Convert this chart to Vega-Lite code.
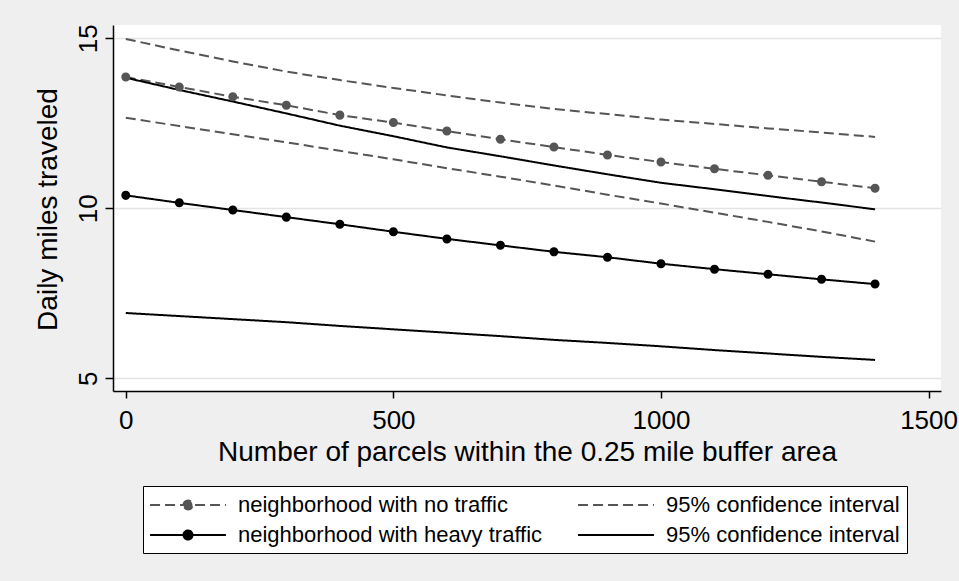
{
  "$schema": "https://vega.github.io/schema/vega-lite/v6.json",
  "width": 828,
  "height": 366,
  "autosize": {"type": "none"},
  "padding": {"left": 113, "top": 25, "right": 18, "bottom": 190},
  "background": "#efefef",
  "config": {
    "font": "Liberation Sans",
    "view": {"fill": "white", "stroke": null},
    "axis": {
      "domainColor": "#000000",
      "domainWidth": 1.5,
      "tickColor": "#000000",
      "tickWidth": 1.5,
      "labelColor": "#000000",
      "titleColor": "#000000",
      "titleFontWeight": "normal",
      "labelOverlap": false,
      "labelFlush": false,
      "labelBound": false
    },
    "legend": {
      "orient": "none",
      "legendX": 30,
      "legendY": 461,
      "direction": "horizontal",
      "columns": 2,
      "columnPadding": 31,
      "rowPadding": 7,
      "padding": 7,
      "strokeColor": "#000000",
      "fillColor": "#ffffff",
      "symbolSize": 484,
      "symbolOffset": 26,
      "symbolStrokeWidth": 2,
      "labelFontSize": 22,
      "labelColor": "#000000",
      "labelOffset": 38,
      "labelLimit": 600
    }
  },
  "data": {
    "values": [
      {"parcels": 0, "miles": 13.86, "group": "none", "curve": "estimate"},
      {"parcels": 100, "miles": 13.57, "group": "none", "curve": "estimate"},
      {"parcels": 200, "miles": 13.28, "group": "none", "curve": "estimate"},
      {"parcels": 300, "miles": 13.03, "group": "none", "curve": "estimate"},
      {"parcels": 400, "miles": 12.74, "group": "none", "curve": "estimate"},
      {"parcels": 500, "miles": 12.52, "group": "none", "curve": "estimate"},
      {"parcels": 600, "miles": 12.27, "group": "none", "curve": "estimate"},
      {"parcels": 700, "miles": 12.03, "group": "none", "curve": "estimate"},
      {"parcels": 800, "miles": 11.80, "group": "none", "curve": "estimate"},
      {"parcels": 900, "miles": 11.57, "group": "none", "curve": "estimate"},
      {"parcels": 1000, "miles": 11.36, "group": "none", "curve": "estimate"},
      {"parcels": 1100, "miles": 11.16, "group": "none", "curve": "estimate"},
      {"parcels": 1200, "miles": 10.97, "group": "none", "curve": "estimate"},
      {"parcels": 1300, "miles": 10.78, "group": "none", "curve": "estimate"},
      {"parcels": 1400, "miles": 10.59, "group": "none", "curve": "estimate"},

      {"parcels": 0, "miles": 14.98, "group": "none_ci", "curve": "upper"},
      {"parcels": 100, "miles": 14.64, "group": "none_ci", "curve": "upper"},
      {"parcels": 200, "miles": 14.32, "group": "none_ci", "curve": "upper"},
      {"parcels": 300, "miles": 14.02, "group": "none_ci", "curve": "upper"},
      {"parcels": 400, "miles": 13.77, "group": "none_ci", "curve": "upper"},
      {"parcels": 500, "miles": 13.54, "group": "none_ci", "curve": "upper"},
      {"parcels": 600, "miles": 13.32, "group": "none_ci", "curve": "upper"},
      {"parcels": 700, "miles": 13.11, "group": "none_ci", "curve": "upper"},
      {"parcels": 800, "miles": 12.92, "group": "none_ci", "curve": "upper"},
      {"parcels": 900, "miles": 12.77, "group": "none_ci", "curve": "upper"},
      {"parcels": 1000, "miles": 12.61, "group": "none_ci", "curve": "upper"},
      {"parcels": 1100, "miles": 12.48, "group": "none_ci", "curve": "upper"},
      {"parcels": 1200, "miles": 12.35, "group": "none_ci", "curve": "upper"},
      {"parcels": 1300, "miles": 12.23, "group": "none_ci", "curve": "upper"},
      {"parcels": 1400, "miles": 12.10, "group": "none_ci", "curve": "upper"},

      {"parcels": 0, "miles": 12.66, "group": "none_ci", "curve": "lower"},
      {"parcels": 100, "miles": 12.42, "group": "none_ci", "curve": "lower"},
      {"parcels": 200, "miles": 12.18, "group": "none_ci", "curve": "lower"},
      {"parcels": 300, "miles": 11.94, "group": "none_ci", "curve": "lower"},
      {"parcels": 400, "miles": 11.69, "group": "none_ci", "curve": "lower"},
      {"parcels": 500, "miles": 11.44, "group": "none_ci", "curve": "lower"},
      {"parcels": 600, "miles": 11.18, "group": "none_ci", "curve": "lower"},
      {"parcels": 700, "miles": 10.93, "group": "none_ci", "curve": "lower"},
      {"parcels": 800, "miles": 10.67, "group": "none_ci", "curve": "lower"},
      {"parcels": 900, "miles": 10.40, "group": "none_ci", "curve": "lower"},
      {"parcels": 1000, "miles": 10.14, "group": "none_ci", "curve": "lower"},
      {"parcels": 1100, "miles": 9.87, "group": "none_ci", "curve": "lower"},
      {"parcels": 1200, "miles": 9.60, "group": "none_ci", "curve": "lower"},
      {"parcels": 1300, "miles": 9.32, "group": "none_ci", "curve": "lower"},
      {"parcels": 1400, "miles": 9.02, "group": "none_ci", "curve": "lower"},

      {"parcels": 0, "miles": 10.38, "group": "heavy", "curve": "estimate"},
      {"parcels": 100, "miles": 10.16, "group": "heavy", "curve": "estimate"},
      {"parcels": 200, "miles": 9.95, "group": "heavy", "curve": "estimate"},
      {"parcels": 300, "miles": 9.74, "group": "heavy", "curve": "estimate"},
      {"parcels": 400, "miles": 9.53, "group": "heavy", "curve": "estimate"},
      {"parcels": 500, "miles": 9.31, "group": "heavy", "curve": "estimate"},
      {"parcels": 600, "miles": 9.10, "group": "heavy", "curve": "estimate"},
      {"parcels": 700, "miles": 8.91, "group": "heavy", "curve": "estimate"},
      {"parcels": 800, "miles": 8.72, "group": "heavy", "curve": "estimate"},
      {"parcels": 900, "miles": 8.56, "group": "heavy", "curve": "estimate"},
      {"parcels": 1000, "miles": 8.37, "group": "heavy", "curve": "estimate"},
      {"parcels": 1100, "miles": 8.21, "group": "heavy", "curve": "estimate"},
      {"parcels": 1200, "miles": 8.06, "group": "heavy", "curve": "estimate"},
      {"parcels": 1300, "miles": 7.91, "group": "heavy", "curve": "estimate"},
      {"parcels": 1400, "miles": 7.77, "group": "heavy", "curve": "estimate"},

      {"parcels": 0, "miles": 13.84, "group": "heavy_ci", "curve": "upper"},
      {"parcels": 100, "miles": 13.48, "group": "heavy_ci", "curve": "upper"},
      {"parcels": 200, "miles": 13.14, "group": "heavy_ci", "curve": "upper"},
      {"parcels": 300, "miles": 12.79, "group": "heavy_ci", "curve": "upper"},
      {"parcels": 400, "miles": 12.43, "group": "heavy_ci", "curve": "upper"},
      {"parcels": 500, "miles": 12.12, "group": "heavy_ci", "curve": "upper"},
      {"parcels": 600, "miles": 11.79, "group": "heavy_ci", "curve": "upper"},
      {"parcels": 700, "miles": 11.53, "group": "heavy_ci", "curve": "upper"},
      {"parcels": 800, "miles": 11.26, "group": "heavy_ci", "curve": "upper"},
      {"parcels": 900, "miles": 11.00, "group": "heavy_ci", "curve": "upper"},
      {"parcels": 1000, "miles": 10.75, "group": "heavy_ci", "curve": "upper"},
      {"parcels": 1100, "miles": 10.56, "group": "heavy_ci", "curve": "upper"},
      {"parcels": 1200, "miles": 10.36, "group": "heavy_ci", "curve": "upper"},
      {"parcels": 1300, "miles": 10.17, "group": "heavy_ci", "curve": "upper"},
      {"parcels": 1400, "miles": 9.97, "group": "heavy_ci", "curve": "upper"},

      {"parcels": 0, "miles": 6.92, "group": "heavy_ci", "curve": "lower"},
      {"parcels": 100, "miles": 6.83, "group": "heavy_ci", "curve": "lower"},
      {"parcels": 200, "miles": 6.74, "group": "heavy_ci", "curve": "lower"},
      {"parcels": 300, "miles": 6.65, "group": "heavy_ci", "curve": "lower"},
      {"parcels": 400, "miles": 6.54, "group": "heavy_ci", "curve": "lower"},
      {"parcels": 500, "miles": 6.44, "group": "heavy_ci", "curve": "lower"},
      {"parcels": 600, "miles": 6.34, "group": "heavy_ci", "curve": "lower"},
      {"parcels": 700, "miles": 6.24, "group": "heavy_ci", "curve": "lower"},
      {"parcels": 800, "miles": 6.13, "group": "heavy_ci", "curve": "lower"},
      {"parcels": 900, "miles": 6.04, "group": "heavy_ci", "curve": "lower"},
      {"parcels": 1000, "miles": 5.94, "group": "heavy_ci", "curve": "lower"},
      {"parcels": 1100, "miles": 5.83, "group": "heavy_ci", "curve": "lower"},
      {"parcels": 1200, "miles": 5.73, "group": "heavy_ci", "curve": "lower"},
      {"parcels": 1300, "miles": 5.63, "group": "heavy_ci", "curve": "lower"},
      {"parcels": 1400, "miles": 5.54, "group": "heavy_ci", "curve": "lower"}
    ]
  },
  "encoding": {
    "x": {
      "field": "parcels",
      "type": "quantitative",
      "scale": {"domain": [-23.9, 1523.2], "nice": false, "zero": false},
      "axis": {
        "values": [0, 500, 1000, 1500],
        "format": "d",
        "grid": false,
        "tickSize": 7,
        "labelFontSize": 26,
        "labelBaseline": "alphabetic",
        "labelPadding": 30,
        "title": "Number of parcels within the 0.25 mile buffer area",
        "titleFontSize": 28,
        "titleBaseline": "alphabetic",
        "titleAlign": "center",
        "titleX": 414,
        "titleY": 69
      }
    },
    "y": {
      "field": "miles",
      "type": "quantitative",
      "scale": {"domain": [4.626, 15.391], "nice": false, "zero": false},
      "axis": {
        "values": [5, 10, 15],
        "grid": true,
        "gridColor": "#e4e4e4",
        "gridWidth": 1.5,
        "tickSize": 8,
        "labelFontSize": 26,
        "labelAngle": 270,
        "labelAlign": "center",
        "labelBaseline": "alphabetic",
        "labelPadding": 9,
        "title": "Daily miles traveled",
        "titleFontSize": 28,
        "titleAngle": 270,
        "titleAlign": "center",
        "titleBaseline": "alphabetic",
        "titleX": -57,
        "titleY": 184
      }
    },
    "color": {
      "field": "group",
      "type": "nominal",
      "scale": {
        "domain": ["none", "none_ci", "heavy", "heavy_ci"],
        "range": ["#555555", "#555555", "#000000", "#000000"]
      },
      "legend": {
        "title": null,
        "labelExpr": "datum.value === 'none' ? 'neighborhood with no traffic' : datum.value === 'heavy' ? 'neighborhood with heavy traffic' : '95% confidence interval'"
      }
    }
  },
  "layer": [
    {
      "mark": {"type": "line", "strokeWidth": 2},
      "encoding": {
        "detail": {"field": "curve", "type": "nominal"},
        "strokeDash": {
          "field": "group",
          "type": "nominal",
          "scale": {
            "domain": ["none", "none_ci", "heavy", "heavy_ci"],
            "range": [[10, 5], [10, 5], [1, 0], [1, 0]]
          },
          "legend": {
            "title": null,
            "labelExpr": "datum.value === 'none' ? 'neighborhood with no traffic' : datum.value === 'heavy' ? 'neighborhood with heavy traffic' : '95% confidence interval'"
          }
        }
      }
    },
    {
      "transform": [{"filter": "datum.curve === 'estimate'"}],
      "mark": {"type": "point", "filled": true, "size": 484, "opacity": 1},
      "encoding": {
        "shape": {
          "field": "group",
          "type": "nominal",
          "scale": {
            "domain": ["none", "none_ci", "heavy", "heavy_ci"],
            "range": [
              "M-3.45,0H3.45M-0.41,0A0.41,0.41,0,1,1,0.41,0A0.41,0.41,0,1,1,-0.41,0Z",
              "M-3.45,0H3.45",
              "M-3.45,0H3.45M-0.41,0A0.41,0.41,0,1,1,0.41,0A0.41,0.41,0,1,1,-0.41,0Z",
              "M-3.45,0H3.45"
            ]
          },
          "legend": {
            "title": null,
            "labelExpr": "datum.value === 'none' ? 'neighborhood with no traffic' : datum.value === 'heavy' ? 'neighborhood with heavy traffic' : '95% confidence interval'"
          }
        }
      }
    }
  ]
}
